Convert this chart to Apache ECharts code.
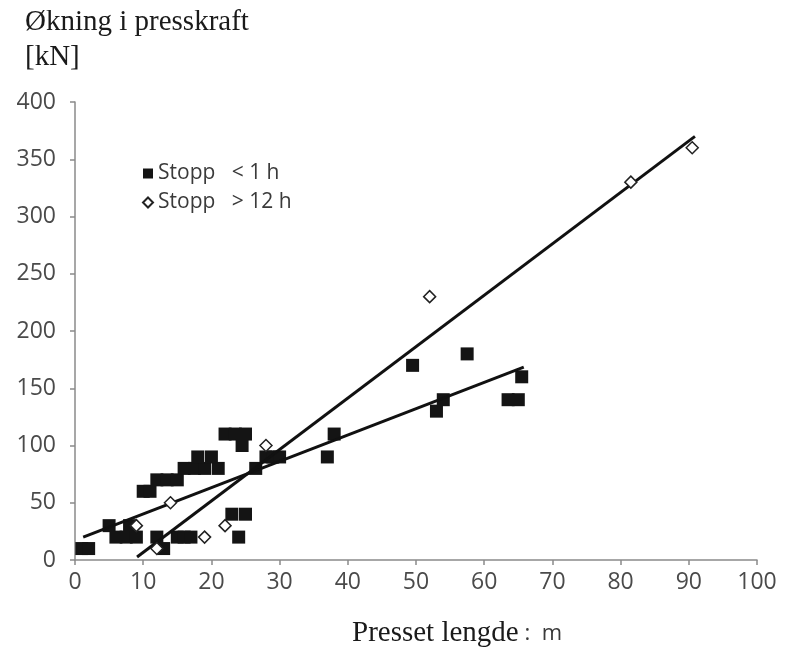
<!DOCTYPE html>
<html>
<head>
<meta charset="utf-8">
<script src="https://cdn.jsdelivr.net/npm/echarts@6/dist/echarts.min.js"></script>
<style>
  html, body { margin: 0; padding: 0; background: #fff; }
  #chart { width: 791px; height: 648px; }
</style>
</head>
<body>
<div id="chart"></div>
<script>
// Stopp < 1 h  (presset lengde [m], økning i presskraft [kN])
var stoppKort = [
  [1, 10], [2, 10], [5, 30], [8, 30], [6, 20], [7.5, 20], [9, 20],
  [10, 60], [11, 60], [12, 70], [13.5, 70], [15, 70],
  [16, 80], [17.5, 80], [19, 80], [21, 80], [18, 90], [20, 90],
  [22, 110], [23.5, 110], [25, 110], [24.5, 100],
  [12, 20], [13, 10], [15, 20], [16, 20], [17, 20],
  [23, 40], [25, 40], [24, 20],
  [26.5, 80], [28, 90], [29, 90], [30, 90],
  [37, 90], [38, 110], [49.5, 170], [53, 130], [54, 140],
  [57.5, 180], [63.5, 140], [65, 140], [65.5, 160]
];
// Stopp > 12 h
var stoppLang = [
  [9, 30], [12, 10], [14, 50], [19, 20], [22, 30], [28, 100],
  [52, 230], [81.5, 330], [90.5, 360]
];
// trendlinjer (endepunkter)
var trendKort = [[1.2, 20], [65.8, 168.5]];
var trendLang = [[9.1, 2.6], [90.9, 370]];

var legendNames = ['Stopp   < 1 h', 'Stopp   > 12 h'];

var chart = echarts.init(document.getElementById('chart'));

var axisCommon = {
  axisLine: { show: true, lineStyle: { color: '#8a8a8a', width: 1.5 } },
  axisTick: { show: true, inside: false, length: 5, lineStyle: { color: '#8a8a8a', width: 1.5 } },
  axisLabel: { color: '#4a4a4a', fontSize: 23, fontFamily: 'Open Sans' },
  splitLine: { show: false }
};

var option = {
  backgroundColor: '#fff',
  animation: false,
  title: {
    text: 'Økning i presskraft\n[kN]',
    left: 20,
    top: 0,
    textStyle: {
      fontFamily: 'Liberation Serif',
      fontWeight: 'normal',
      fontSize: 29,
      lineHeight: 35,
      color: '#1a1a1a'
    }
  },
  legend: {
    data: legendNames,
    orient: 'vertical',
    left: 137,
    top: 158,
    itemWidth: 10,
    itemHeight: 10,
    itemGap: 8,
    textStyle: { fontFamily: 'Open Sans', fontSize: 21, color: '#3a3a3a' }
  },
  graphic: [{
    type: 'text',
    left: 352,
    top: 619,
    style: {
      text: '{a|Presset lengde}{b| :  m}',
      rich: {
        a: { fontFamily: 'Liberation Serif', fontSize: 29, fill: '#1a1a1a' },
        b: { fontFamily: 'Open Sans', fontSize: 22, fill: '#3a3a3a' }
      }
    }
  }],
  grid: { left: 75, right: 34, top: 102, bottom: 88 },
  xAxis: Object.assign({}, axisCommon, {
    type: 'value',
    min: 0,
    max: 100,
    interval: 10,
    axisLabel: Object.assign({}, axisCommon.axisLabel, { margin: 11 })
  }),
  yAxis: Object.assign({}, axisCommon, {
    type: 'value',
    min: 0,
    max: 400,
    interval: 50,
    axisLabel: Object.assign({}, axisCommon.axisLabel, { margin: 19 })
  }),
  series: [
    {
      name: legendNames[0],
      type: 'scatter',
      symbol: 'rect',
      symbolSize: 13,
      itemStyle: { color: '#141414', opacity: 1 },
      data: stoppKort,
      z: 2
    },
    {
      type: 'line',
      data: trendKort,
      symbol: 'none',
      lineStyle: { color: '#111', width: 3 },
      z: 3
    },
    {
      type: 'line',
      data: trendLang,
      symbol: 'none',
      lineStyle: { color: '#111', width: 3 },
      z: 3
    },
    {
      name: legendNames[1],
      type: 'scatter',
      symbol: 'diamond',
      symbolSize: 12,
      itemStyle: { color: '#fff', borderColor: '#222', borderWidth: 1.5, opacity: 1 },
      data: stoppLang,
      z: 4
    }
  ]
};

chart.setOption(option);
</script>
</body>
</html>
